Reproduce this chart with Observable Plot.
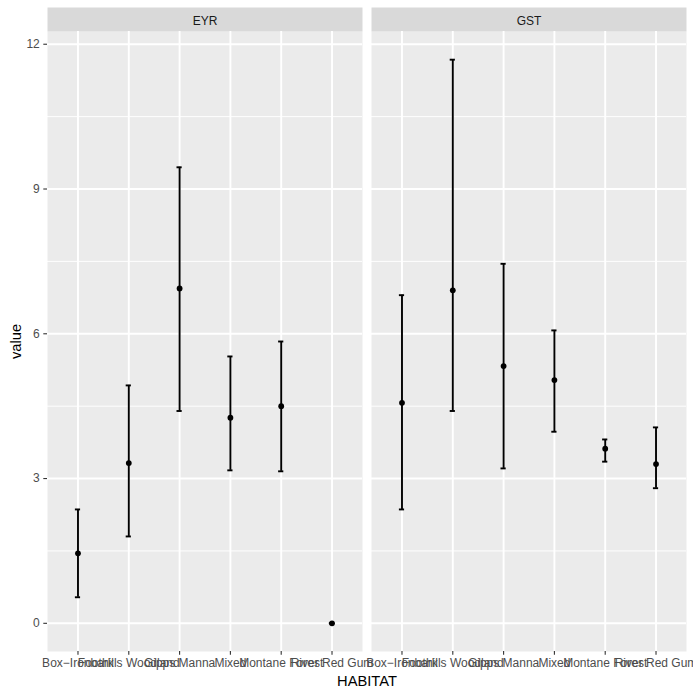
<!DOCTYPE html>
<html>
<head>
<meta charset="utf-8">
<script src="https://cdn.jsdelivr.net/npm/d3@7"></script>
<script src="https://cdn.jsdelivr.net/npm/@observablehq/plot@0.6"></script>
<style>
  html, body { margin: 0; padding: 0; background: #fff; }
  #chart svg { display: block; }
</style>
</head>
<body>
<div id="chart"></div>
<script>
const sites = ["EYR", "GST"];
const habitats = ["Box\u2212Ironbark", "Foothills Woodland", "Gipps Manna", "Mixed", "Montane Forest", "River Red Gum"];
const eyrMean  = [1.45, 3.32, 6.94, 4.26, 4.50, 0.00];
const eyrLower = [0.54, 1.80, 4.40, 3.17, 3.15, 0.00];
const eyrUpper = [2.36, 4.93, 9.45, 5.53, 5.84, 0.00];
const gstMean  = [4.57, 6.90, 5.33, 5.04, 3.62, 3.30];
const gstLower = [2.36, 4.40, 3.21, 3.97, 3.35, 2.80];
const gstUpper = [6.80, 11.68, 7.45, 6.07, 3.81, 4.06];
const yMajor = [0, 3, 6, 9, 12];
const yMinor = [1.5, 4.5, 7.5, 10.5];

const data = [];
habitats.forEach((h, i) => {
  data.push({site: "EYR", habitat: h, value: eyrMean[i], lo: eyrLower[i], hi: eyrUpper[i]});
});
habitats.forEach((h, i) => {
  data.push({site: "GST", habitat: h, value: gstMean[i], lo: gstLower[i], hi: gstUpper[i]});
});

const font = "'Liberation Sans', Arial, Helvetica, sans-serif";

const chart = Plot.plot({
  width: 693,
  height: 693,
  marginTop: 31,
  marginBottom: 42,
  marginLeft: 47,
  marginRight: 7,
  style: {fontFamily: font, background: "#ffffff", overflow: "visible"},
  fx: {domain: sites, paddingInner: 0.0278, paddingOuter: 0, round: false, label: null},
  x: {type: "point", domain: habitats, padding: 0.6, round: false, label: null},
  y: {domain: [-0.584, 12.264], label: null},
  marks: [
    Plot.frame({fill: "#ebebeb", stroke: null}),
    Plot.frame({fill: "#d9d9d9", stroke: null, insetTop: -24, insetBottom: 620}),
    Plot.gridY(yMinor, {stroke: "#ffffff", strokeOpacity: 1, strokeWidth: 0.95}),
    Plot.gridY(yMajor, {stroke: "#ffffff", strokeOpacity: 1, strokeWidth: 1.9}),
    Plot.gridX(habitats, {stroke: "#ffffff", strokeOpacity: 1, strokeWidth: 1.9}),
    Plot.axisFx({anchor: "top", tickSize: 0, tickPadding: 7, fontSize: 12, fill: "#1a1a1a", label: null}),
    Plot.axisFx({anchor: "bottom", ticks: [], tickSize: 0, label: "HABITAT", labelAnchor: "center", labelArrow: "none", labelOffset: 34, fontSize: 14.7, fill: "#000000"}),
    Plot.axisY({ticks: yMajor, tickSize: 3.7, tickPadding: 4, stroke: "#333333", strokeWidth: 1.1, fontSize: 12, fill: "#4d4d4d", label: null}),
    Plot.axisY({ticks: [], tickSize: 0, label: "value", labelAnchor: "center", labelArrow: "none", labelOffset: 37, fontSize: 14.7, fill: "#000000"}),
    Plot.axisX({tickSize: 3.7, tickPadding: 3, stroke: "#333333", strokeWidth: 1.1, fontSize: 12, fill: "#4d4d4d", label: null}),
    Plot.ruleX(data, {fx: "site", x: "habitat", y1: "lo", y2: "hi", stroke: "#000000", strokeWidth: 1.9}),
    Plot.ruleY(data, {fx: "site", x1: "habitat", x2: "habitat", y: "lo", stroke: "#000000", strokeWidth: 1.9, insetLeft: -2.6, insetRight: -2.6}),
    Plot.ruleY(data, {fx: "site", x1: "habitat", x2: "habitat", y: "hi", stroke: "#000000", strokeWidth: 1.9, insetLeft: -2.6, insetRight: -2.6}),
    Plot.dot(data, {fx: "site", x: "habitat", y: "value", r: 2.9, fill: "#000000", stroke: null})
  ]
});
document.getElementById("chart").appendChild(chart);
</script>
</body>
</html>
